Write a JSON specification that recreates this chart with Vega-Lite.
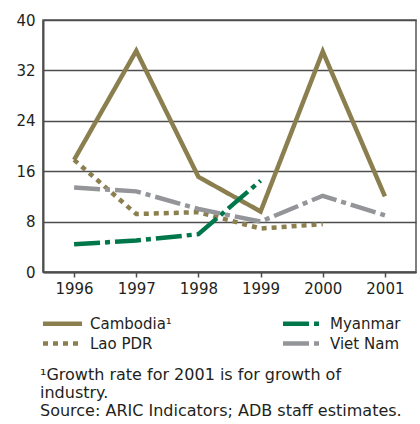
{
  "$schema": "https://vega.github.io/schema/vega-lite/v6.json",
  "width": 373,
  "height": 252,
  "autosize": "none",
  "padding": {"left": 43, "top": 20, "right": 4, "bottom": 152},
  "background": "white",
  "config": {
    "font": "DejaVu Sans",
    "view": {"stroke": "#555555", "strokeWidth": 1.5},
    "axis": {"labelFont": "DejaVu Sans", "labelFontSize": 15, "labelColor": "#231f20", "domainColor": "#4d4d4d", "domainWidth": 2, "gridColor": "#4d4d4d", "gridWidth": 1.5, "title": null},
    "legend": {
      "title": null,
      "orient": "none",
      "legendX": 9,
      "legendY": 293,
      "columns": 2,
      "columnPadding": 102,
      "rowPadding": 0,
      "symbolType": "M-2.5,0H2.5",
      "symbolSize": 243,
      "symbolStrokeWidth": 4.5,
      "labelFontSize": 15,
      "labelFont": "DejaVu Sans",
      "labelColor": "#231f20",
      "labelOffset": 17
    }
  },
  "title": {
    "text": ["¹Growth rate for 2001 is for growth of", "industry.", "Source: ARIC Indicators; ADB staff estimates."],
    "orient": "bottom",
    "anchor": "start",
    "frame": "group",
    "font": "DejaVu Sans",
    "fontSize": 16,
    "fontWeight": "normal",
    "color": "#231f20",
    "lineHeight": 18,
    "offset": 14,
    "dx": -3
  },
  "data": {
    "values": [
      {"year": "1996", "country": "Cambodia", "value": 17.8},
      {"year": "1997", "country": "Cambodia", "value": 35.1},
      {"year": "1998", "country": "Cambodia", "value": 15.1},
      {"year": "1999", "country": "Cambodia", "value": 9.6},
      {"year": "2000", "country": "Cambodia", "value": 35.0},
      {"year": "2001", "country": "Cambodia", "value": 12.0},
      {"year": "1996", "country": "Lao PDR", "value": 17.8},
      {"year": "1997", "country": "Lao PDR", "value": 9.2},
      {"year": "1998", "country": "Lao PDR", "value": 9.5},
      {"year": "1999", "country": "Lao PDR", "value": 6.9},
      {"year": "2000", "country": "Lao PDR", "value": 7.6},
      {"year": "1996", "country": "Myanmar", "value": 4.4},
      {"year": "1997", "country": "Myanmar", "value": 5.0},
      {"year": "1998", "country": "Myanmar", "value": 6.0},
      {"year": "1999", "country": "Myanmar", "value": 14.5},
      {"year": "1996", "country": "Viet Nam", "value": 13.4},
      {"year": "1997", "country": "Viet Nam", "value": 12.8},
      {"year": "1998", "country": "Viet Nam", "value": 10.0},
      {"year": "1999", "country": "Viet Nam", "value": 8.0},
      {"year": "2000", "country": "Viet Nam", "value": 12.1},
      {"year": "2001", "country": "Viet Nam", "value": 9.0}
    ]
  },
  "mark": {"type": "line", "strokeWidth": 4.5, "strokeCap": "butt", "strokeJoin": "miter"},
  "encoding": {
    "x": {
      "field": "year", "type": "ordinal",
      "scale": {"type": "point", "padding": 0.5},
      "axis": {"labelAngle": 0, "grid": false, "tickColor": "#4d4d4d", "tickSize": 5, "tickWidth": 1.5, "labelPadding": 4}
    },
    "y": {
      "field": "value", "type": "quantitative",
      "scale": {"domain": [0, 40], "nice": false},
      "axis": {"values": [0, 8, 16, 24, 32, 40], "ticks": false, "labelPadding": 8, "grid": true}
    },
    "color": {
      "field": "country", "type": "nominal",
      "scale": {"domain": ["Cambodia", "Lao PDR", "Myanmar", "Viet Nam"], "range": ["#8b7e4f", "#8b7e4f", "#00774a", "#939598"]},
      "legend": {
        "labelExpr": "datum.label == 'Cambodia' ? 'Cambodia¹' : datum.label"
      }
    },
    "strokeDash": {
      "field": "country", "type": "nominal",
      "scale": {"domain": ["Cambodia", "Lao PDR", "Myanmar", "Viet Nam"], "range": [[1, 0], [5, 5], [26, 5, 5, 5], [26, 5, 5, 5]]},
      "legend": {
        "labelExpr": "datum.label == 'Cambodia' ? 'Cambodia¹' : datum.label"
      }
    }
  }
}
